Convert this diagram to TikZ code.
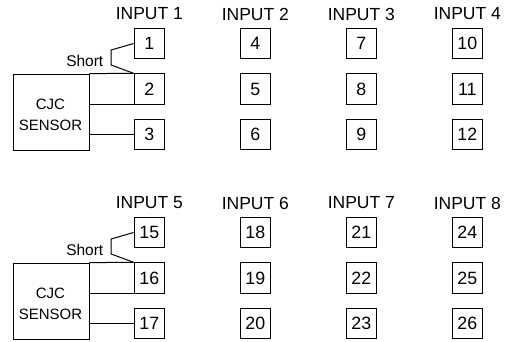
\documentclass[tikz,border=0pt]{standalone}
\usepackage{fontspec}
\setmainfont{Liberation Sans}
\begin{document}
\begin{tikzpicture}[x=1pt,y=-1pt,
  term/.style={draw, line width=0.8pt, minimum width=30.5pt, minimum height=30.5pt, inner sep=0pt, font=\fontsize{17.8}{20}\selectfont},
  inlabel/.style={font=\fontsize{17.5}{20}\selectfont, inner sep=0pt},
  wire/.style={line width=1pt},
  cjcbox/.style={draw, line width=0.8pt, minimum width=75.5pt, minimum height=76pt, inner sep=0pt},
  cjctext/.style={inner sep=0pt, align=center, font=\fontsize{15}{21}\selectfont},
  shortlbl/.style={font=\fontsize{15.5}{18}\selectfont, inner sep=0pt, anchor=east}]
\useasboundingbox (0,0) rectangle (509,342);
\foreach \g/\dy/\base in {0/0/0, 1/189/14} {
  \foreach \c in {0,1,2,3} {
    \pgfmathsetmacro\cx{149.3+106*\c}
    \pgfmathtruncatemacro\inp{4*\g+\c+1}
    \node[inlabel] (in\inp) at (\cx, 14+\dy) {INPUT \inp};
    \foreach \r in {0,1,2} {
      \pgfmathtruncatemacro\n{\base+3*\c+\r+1}
      \node[term] (b\n) at (\cx, 43.5+45.5*\r+\dy) {\n};
    }
  }
}
% group 1
\node[cjcbox] (cjc1) at (51.25, 112) {};
\node[cjctext] (t1) at ([xshift=-0.8pt,yshift=-2.5pt]cjc1.center) {CJC\\SENSOR};
\draw[wire] (cjc1.north east) -- (b2.north west);
\draw[wire] (cjc1.east |- b2.south) -- (b2.south west);
\draw[wire] (cjc1.east |- b3.west) -- (b3.west);
\draw[wire] (b1.west) -- ++(-22.5,6.5) -- ++(0,15) -- (b2.north west);
\node[shortlbl] (s1) at (103.5, 61) {Short};
% group 2
\node[cjcbox] (cjc2) at (51.25, 301) {};
\node[cjctext] (t2) at ([xshift=-0.8pt,yshift=-2.5pt]cjc2.center) {CJC\\SENSOR};
\draw[wire] (cjc2.north east) -- (b16.north west);
\draw[wire] (cjc2.east |- b16.south) -- (b16.south west);
\draw[wire] (cjc2.east |- b17.west) -- (b17.west);
\draw[wire] (b15.west) -- ++(-22.5,6.5) -- ++(0,15) -- (b16.north west);
\node[shortlbl] (s2) at (103.5, 250) {Short};
\end{tikzpicture}
\end{document}
